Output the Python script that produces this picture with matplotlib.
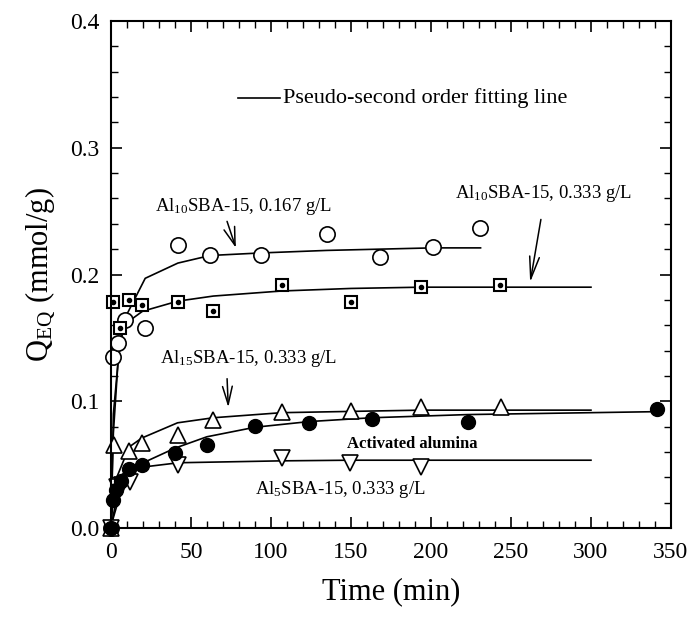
import numpy as np
import matplotlib
matplotlib.use('Agg')
import matplotlib.pyplot as plt
from matplotlib.ticker import MultipleLocator, FormatStrFormatter

plt.rcParams['font.family'] = 'Liberation Serif'
plt.rcParams['mathtext.fontset'] = 'custom'
plt.rcParams['mathtext.rm'] = 'Liberation Serif'
plt.rcParams['mathtext.it'] = 'Liberation Serif:italic'

# Al10SBA-15, 0.167 g/L  (open circles)
t_a10_low = [0, 1.5, 4.6, 8.9, 21.4, 41.8, 62, 93.6, 134.8, 168, 201, 230.5]
q_a10_low = [0, 0.135, 0.146, 0.164, 0.158, 0.223, 0.215, 0.215, 0.232, 0.214, 0.222, 0.237]
fit_t_a10_low = [0, 1.5, 4.6, 8.9, 21.4, 41.8, 62, 93.6, 134.8, 168, 201, 231]
fit_q_a10_low = [0, 0.075, 0.135, 0.166, 0.197, 0.209, 0.215, 0.217, 0.219, 0.220, 0.221, 0.221]

# Al10SBA-15, 0.333 g/L  (dotted squares)
t_a10 = [0, 1.5, 5.8, 11, 19.7, 41.8, 64, 106.7, 150, 194, 243]
q_a10 = [0, 0.178, 0.158, 0.180, 0.176, 0.178, 0.171, 0.192, 0.178, 0.190, 0.192]
fit_t_a10 = [0, 1.5, 5.8, 11, 19.7, 41.8, 64, 106.7, 150, 194, 243, 300]
fit_q_a10 = [0, 0.09, 0.150, 0.163, 0.171, 0.179, 0.183, 0.187, 0.189, 0.190, 0.190, 0.190]

# Al15SBA-15, 0.333 g/L  (open triangles)
t_a15 = [0, 2, 11.4, 19.3, 41.6, 64, 106.7, 149.8, 194, 244]
q_a15 = [0, 0.0655, 0.061, 0.0668, 0.0734, 0.0852, 0.0913, 0.0926, 0.0952, 0.0952]
fit_t_a15 = [0, 2, 11.4, 19.3, 41.6, 64, 106.7, 149.8, 194, 244, 300]
fit_q_a15 = [0, 0.035, 0.064, 0.071, 0.083, 0.087, 0.091, 0.092, 0.093, 0.093, 0.093]

# Activated alumina  (filled circles)
t_alu = [0, 1, 3, 6.5, 11, 19.3, 40, 60, 90, 124, 163, 223, 341]
q_alu = [0, 0.022, 0.030, 0.037, 0.0463, 0.0497, 0.0594, 0.0655, 0.0805, 0.0826, 0.0857, 0.0839, 0.0936]
fit_t_alu = [0, 1, 6.5, 11, 19.3, 40, 60, 90, 124, 163, 223, 341]
fit_q_alu = [0, 0.006, 0.030, 0.040, 0.051, 0.063, 0.072, 0.0795, 0.084, 0.087, 0.0895, 0.0918]

# Al5SBA-15, 0.333 g/L  (inverted triangles)
t_a5 = [0, 3.7, 7, 12, 42.2, 106.7, 149.4, 194]
q_a5 = [0, 0.0326, 0.034, 0.0366, 0.0497, 0.055, 0.051, 0.0484]
fit_t_a5 = [0, 3.7, 7, 12, 19.3, 42.2, 106.7, 149.4, 194, 300]
fit_q_a5 = [0, 0.025, 0.036, 0.043, 0.048, 0.0515, 0.053, 0.0535, 0.0535, 0.0535]

fig = plt.figure(figsize=(6.91, 6.17), dpi=100)
ax = fig.add_axes([0.1606, 0.1442, 0.8104, 0.8218])

lw = 1.2
ax.plot(fit_t_a10_low, fit_q_a10_low, 'k-', lw=lw)
ax.plot(fit_t_a10, fit_q_a10, 'k-', lw=lw)
ax.plot(fit_t_a15, fit_q_a15, 'k-', lw=lw)
ax.plot(fit_t_alu, fit_q_alu, 'k-', lw=lw)
ax.plot(fit_t_a5, fit_q_a5, 'k-', lw=lw)

ax.plot(t_a10_low, q_a10_low, 'o', ms=11, mfc='white', mec='k', mew=1.2, clip_on=False)
ax.plot(t_a10, q_a10, 's', ms=9, mfc='white', mec='k', mew=1.5, clip_on=False)
ax.plot(t_a10, q_a10, 'o', ms=3, color='k', clip_on=False)
ax.plot(t_a15, q_a15, '^', ms=11, mfc='white', mec='k', mew=1.2, clip_on=False)
ax.plot(t_a5, q_a5, 'v', ms=11, mfc='white', mec='k', mew=1.2, clip_on=False)
ax.plot(t_alu, q_alu, 'o', ms=10, color='k', clip_on=False)

ax.set_xlim(0, 350)
ax.set_ylim(0, 0.4)
ax.xaxis.set_major_locator(MultipleLocator(50))
ax.xaxis.set_minor_locator(MultipleLocator(10))
ax.yaxis.set_major_locator(MultipleLocator(0.1))
ax.yaxis.set_minor_locator(MultipleLocator(0.02))
ax.yaxis.set_major_formatter(FormatStrFormatter('%.1f'))
ax.tick_params(which='both', direction='in', top=True, right=True, labelsize=17)
ax.tick_params(which='major', length=8, width=1.2)
ax.tick_params(which='minor', length=5, width=1.0)
ax.tick_params(axis='x', pad=10)
ax.tick_params(axis='y', pad=8)
for s in ax.spines.values():
    s.set_linewidth(1.5)

ax.set_xlabel('Time (min)', fontsize=22, labelpad=10)
ax.set_ylabel(r'Q$_{\rm EQ}$ (mmol/g)', fontsize=22, labelpad=10)

# legend drawn by hand
ax.plot([79.5, 105.5], [0.339, 0.339], 'k-', lw=lw)
ax.text(107.5, 0.339, 'Pseudo-second order fitting line', fontsize=16, va='center', ha='left')

ax.text(27.7, 0.254, r'Al$_{10}$SBA-15, 0.167 g/L', fontsize=13.5, va='center', ha='left')
ax.annotate('', xy=(78.6, 0.219), xytext=(72, 0.244),
            arrowprops=dict(arrowstyle='->,head_length=1.3,head_width=0.4', lw=1.1, color='k'))

ax.text(215, 0.264, r'Al$_{10}$SBA-15, 0.333 g/L', fontsize=13.5, va='center', ha='left')
ax.annotate('', xy=(261.7, 0.1917), xytext=(269, 0.2456),
            arrowprops=dict(arrowstyle='->,head_length=1.6,head_width=0.35', lw=1.1, color='k'))

ax.text(30.8, 0.134, r'Al$_{15}$SBA-15, 0.333 g/L', fontsize=13.5, va='center', ha='left')
ax.annotate('', xy=(73.4, 0.093), xytext=(72.5, 0.120),
            arrowprops=dict(arrowstyle='->,head_length=1.3,head_width=0.35', lw=1.1, color='k'))

ax.text(188, 0.0663, 'Activated alumina', fontsize=12, fontweight='bold', va='center', ha='center')
ax.text(90, 0.030, r'Al$_{5}$SBA-15, 0.333 g/L', fontsize=13.5, va='center', ha='left')

fig.savefig('out.png', dpi=100)
